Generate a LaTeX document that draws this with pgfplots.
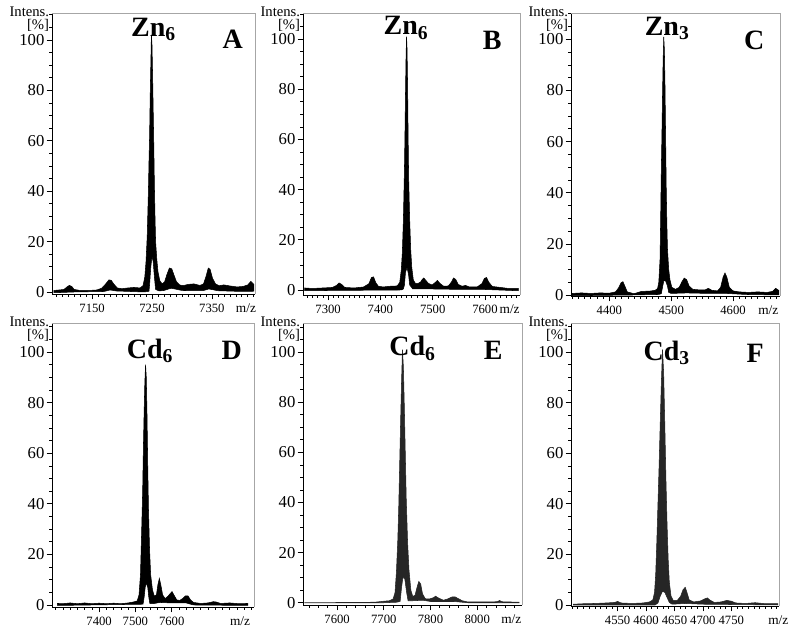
\documentclass[border=0pt]{standalone}
\usepackage{pgfplots}
\pgfplotsset{compat=1.18}
\usepackage{fontspec}
\setmainfont{Liberation Serif}
\pgfplotsset{
  ms/.style={
    scale only axis, clip=false,
    axis lines=left, axis line style={-, line width=0.6pt, black},
    ytick={0,20,...,120}, minor y tick num=3,
    tick align=outside, major tick length=4pt, minor tick length=2pt,
    every tick/.style={black, line width=0.5pt},
    yticklabel style={font=\fontsize{12.5}{12.5}\selectfont, inner sep=1.5pt},
    xticklabel style={font=\fontsize{9.5}{10}\selectfont},
    /pgf/number format/assume math mode=true,
    /pgf/number format/1000 sep={},
    anchor=south west,
  },
  spec/.style={fill=black, draw=black, line width=0.4pt},
}
\newcommand{\frm}{\draw[gray!70, line width=0.5pt] (rel axis cs:0,1) -- (rel axis cs:1,1) -- (rel axis cs:1,0);
  \node[anchor=north east, align=right, inner sep=0pt, font=\fontsize{11}{9.75}\selectfont] at ([xshift=-2pt,yshift=4.5pt]rel axis cs:0,1) {Intens.\\{[}\%{]}};}
\newcommand{\mz}[1]{\node[anchor=north west, font=\fontsize{10}{10}\selectfont, inner sep=0pt] at ([yshift=-7pt]rel axis cs:#1,0) {m/z};}
\begin{document}
\begin{tikzpicture}
\path[use as bounding box] (0,0) rectangle (594.75pt,473.25pt);
% ---------------- A ----------------
\begin{axis}[ms, at={(39pt,252.75pt)}, width=152.25pt, height=210.75pt,
  xmin=7083, xmax=7422, ymin=-0.8, ymax=110.7,
  xtick={7150,7250,7350}, minor xtick={7090,7100,...,7420}]
\addplot[spec] coordinates {
(7086,0.6) (7095,0.8) (7103,1.0) (7108,2.0) (7112,2.6) (7116,2.2) (7120,1.0) (7130,0.6) (7145,0.6) (7158,0.8) (7166,1.5) (7172,3.0) (7178,4.8) (7182,4.6) (7186,3.2) (7192,1.6) (7200,1.3) (7210,1.6) (7220,1.8) (7230,1.6) (7235,2.5) (7238,6) (7240,12) (7242,22) (7244,40) (7245,52) (7246,62) (7247,78) (7248,90) (7249,102) (7250,98) (7251,86) (7252,72) (7253,58) (7254,42) (7255,30) (7256,20) (7258,13) (7260,8) (7263,4.5) (7267,3.2) (7271,4) (7275,7) (7279,9.5) (7283,9.2) (7287,6.5) (7291,4) (7296,2.8) (7302,2.5) (7310,3) (7320,3.2) (7330,2.6) (7336,3.2) (7340,6) (7344,9.5) (7347,9) (7351,5.5) (7356,3.2) (7362,2.5) (7370,2.8) (7380,2.4) (7392,2) (7402,2.2) (7410,2.8) (7415,4.2) (7420,3)
(7420,0.3) (7400,0.2) (7360,0.5) (7345,1.2) (7335,0.5) (7300,0.6) (7282,1.5) (7270,0.6) (7262,0.4) (7256,1) (7254,6) (7252,12) (7250,14) (7248,10) (7246,3) (7245,0.3) (7237,0) (7190,0.4) (7180,0.8) (7170,0.2) (7120,0) (7086,-0.3)
} -- cycle;
\frm \mz{0.905}
\node[anchor=base, font=\bfseries\fontsize{21}{21}\selectfont, inner sep=0pt] at (rel axis cs:0.50,0.918) {Zn$_{\mathbf{6}}$};
\node[anchor=base, font=\bfseries\fontsize{21}{21}\selectfont, inner sep=0pt] at (rel axis cs:0.89,0.872) {A};
\end{axis}
% ---------------- B ----------------
\begin{axis}[ms, at={(227.25pt,252pt)}, width=162.75pt, height=211.5pt,
  xmin=7252, xmax=7667, ymin=-2, ymax=110.4,
  xtick={7300,7400,7500,7600}, minor xtick={7260,7270,...,7660}]
\addplot[spec] coordinates {
(7255,0.8) (7270,0.6) (7290,0.8) (7308,1.0) (7316,1.8) (7321,2.8) (7326,2.2) (7332,1.0) (7350,0.8) (7368,1.2) (7378,2.5) (7383,5) (7387,5.2) (7391,3) (7396,1.5) (7405,1.2) (7420,1.5) (7432,1.6) (7437,3) (7440,8) (7442,15) (7444,28) (7446,48) (7447,62) (7448,78) (7449,92) (7450,101) (7451,96) (7452,82) (7453,62) (7454,45) (7456,28) (7458,16) (7460,9) (7463,4) (7467,2.6) (7472,2.6) (7477,3.2) (7480,4.2) (7483,4.8) (7487,3.8) (7492,2.6) (7499,2) (7505,3) (7509,3.8) (7514,2.6) (7521,1.5) (7530,1.6) (7536,3.2) (7540,4.8) (7544,4.2) (7549,2.2) (7556,1.5) (7563,1.8) (7570,1.2) (7585,1.2) (7594,2.5) (7599,4.6) (7603,5) (7607,3.2) (7614,1.4) (7630,1.0) (7645,0.6) (7664,0.6)
(7664,-0.3) (7600,0.2) (7560,0.2) (7500,0.4) (7462,0.4) (7456,2) (7454,6) (7451,9) (7448,7) (7446,2) (7444,0.4) (7440,0) (7300,-0.2) (7255,-0.3)
} -- cycle;
\frm \mz{0.905}
\node[anchor=base, font=\bfseries\fontsize{21}{21}\selectfont, inner sep=0pt] at (rel axis cs:0.475,0.922) {Zn$_{\mathbf{6}}$};
\node[anchor=base, font=\bfseries\fontsize{21}{21}\selectfont, inner sep=0pt] at (rel axis cs:0.872,0.869) {B};
\end{axis}
% ---------------- C ----------------
\begin{axis}[ms, at={(428.25pt,251.25pt)}, width=156.75pt, height=212.25pt,
  xmin=4338, xmax=4676, ymin=-0.4, ymax=110.3,
  xtick={4400,4500,4600}, minor xtick={4340,4350,...,4670}]
\addplot[spec] coordinates {
(4340,0.6) (4355,0.8) (4370,0.6) (4385,0.8) (4400,0.7) (4410,1.2) (4415,2.8) (4419,4.8) (4422,5.2) (4425,3.5) (4429,1.2) (4440,0.5) (4452,1.4) (4465,1.5) (4474,1.8) (4478,2.5) (4480,5) (4482,14) (4483,30) (4484,48) (4485,62) (4486,78) (4487,92) (4488,101) (4489,96) (4490,82) (4491,62) (4492,42) (4493,28) (4494,18) (4496,10) (4498,6) (4501,3) (4507,2.2) (4513,3) (4517,5) (4521,6.6) (4525,6) (4529,3.5) (4535,2.2) (4545,2) (4555,2) (4560,2.6) (4566,1.8) (4575,1.6) (4580,3) (4584,7) (4587,8.6) (4590,7) (4594,3) (4600,1.6) (4610,1.2) (4625,1.0) (4640,1.2) (4655,1.0) (4664,1.4) (4669,2.6) (4674,1.8)
(4674,0) (4620,0.2) (4590,0.6) (4560,0.6) (4525,0.8) (4500,0.6) (4496,1) (4494,3.5) (4491,5.5) (4488,5.5) (4486,3) (4484,0.5) (4480,0.2) (4440,0) (4340,-0.3)
} -- cycle;
\frm \mz{0.895}
\node[anchor=base, font=\bfseries\fontsize{21}{21}\selectfont, inner sep=0pt] at (rel axis cs:0.46,0.922) {Zn$_{\mathbf{3}}$};
\node[anchor=base, font=\bfseries\fontsize{21}{21}\selectfont, inner sep=0pt] at (rel axis cs:0.877,0.872) {C};
\end{axis}
% ---------------- D ----------------
\begin{axis}[ms, at={(39pt,18pt)}, width=151.5pt, height=213pt,
  xmin=7270, xmax=7827, ymin=-0.8, ymax=111.5,
  xtick={7400,7500,7600}, minor xtick={7280,7300,...,7820}]
\addplot[spec] coordinates {
(7285,0.6) (7300,0.5) (7320,0.8) (7340,0.5) (7360,0.8) (7380,0.5) (7400,0.7) (7420,0.5) (7440,0.7) (7460,0.5) (7480,0.8) (7495,1.2) (7505,1.6) (7510,4) (7514,12) (7517,28) (7520,45) (7522,62) (7524,76) (7526,88) (7528,95) (7530,90) (7532,75) (7534,55) (7536,38) (7539,22) (7542,12) (7547,6) (7552,3.5) (7558,4) (7562,8) (7566,10.5) (7570,8) (7575,4) (7582,2.5) (7590,3.5) (7596,4.5) (7601,5.3) (7606,4) (7614,2) (7622,1.8) (7630,2.5) (7638,3.6) (7645,3.6) (7652,2) (7660,1) (7680,0.6) (7700,0.8) (7715,1.3) (7722,1.2) (7735,0.6) (7760,0.8) (7785,0.5) (7810,0.6)
(7810,-0.2) (7660,0) (7640,0.8) (7600,0.8) (7568,1) (7548,0.5) (7540,0.5) (7537,3) (7534,7) (7530,8.7) (7527,7) (7524,3) (7521,0.3) (7285,-0.2)
} -- cycle;
\frm \mz{0.88}
\node[anchor=base, font=\bfseries\fontsize{21}{21}\selectfont, inner sep=0pt] at (rel axis cs:0.485,0.876) {Cd$_{\mathbf{6}}$};
\node[anchor=base, font=\bfseries\fontsize{21}{21}\selectfont, inner sep=0pt] at (rel axis cs:0.89,0.872) {D};
\end{axis}
% ---------------- E ----------------
\begin{axis}[ms, at={(227.25pt,19.5pt)}, width=164.25pt, height=211.5pt,
  xmin=7527, xmax=7996, ymin=-0.9, ymax=111.6,
  xtick={7600,7700,7800,7900}, xticklabels={7600,7700,7800,8000},
  minor xtick={7540,7560,...,7980}]
\addplot[spec, fill=black!85, draw=black!85] coordinates {
(7530,0) (7680,0.2) (7700,0.6) (7712,0.8) (7720,1.5) (7724,4) (7727,12) (7730,25) (7732,38) (7734,55) (7736,72) (7738,88) (7740,101) (7742,94) (7744,78) (7746,60) (7748,42) (7751,24) (7754,13) (7758,5) (7762,2.5) (7767,3) (7771,6) (7775,8.5) (7779,7.5) (7783,3.5) (7789,1.6) (7798,1.5) (7806,2) (7811,2.6) (7818,1.8) (7828,1.0) (7838,1.6) (7846,2.3) (7853,2.3) (7860,1.6) (7868,0.8) (7880,0.3) (7900,0.3) (7943,0.4) (7948,0.9) (7953,0.4) (7990,0.2)
(7990,0) (7880,0) (7850,0.5) (7800,0.5) (7784,1) (7762,0.8) (7752,0.8) (7749,4) (7745,9.5) (7741,10.2) (7738,6) (7735,0.5) (7727,0.2) (7700,0) (7530,0)
} -- cycle;
\frm \mz{0.904}
\node[anchor=base, font=\bfseries\fontsize{21}{21}\selectfont, inner sep=0pt] at (rel axis cs:0.50,0.883) {Cd$_{\mathbf{6}}$};
\node[anchor=base, font=\bfseries\fontsize{21}{21}\selectfont, inner sep=0pt] at (rel axis cs:0.868,0.869) {E};
\end{axis}
% ---------------- F ----------------
\begin{axis}[ms, at={(428.25pt,18.75pt)}, width=156pt, height=212.25pt,
  xmin=4468, xmax=4834, ymin=-0.4, ymax=111.5,
  xtick={4550,4600,4650,4700,4750}, minor xtick={4470,4480,...,4830}]
\addplot[spec, fill=black!85, draw=black!85] coordinates {
(4472,0.3) (4490,0.5) (4510,0.6) (4530,0.8) (4545,1.0) (4550,1.4) (4556,0.8) (4575,0.6) (4595,0.8) (4606,1.2) (4612,2) (4615,5) (4617,12) (4619,25) (4621,40) (4623,55) (4625,72) (4627,88) (4629,101) (4631,92) (4633,72) (4635,50) (4637,32) (4639,18) (4641,9) (4644,3.5) (4648,1.8) (4655,1.8) (4661,3.5) (4665,6) (4669,7) (4672,5) (4676,2) (4684,1.2) (4696,1.6) (4703,2.4) (4708,2.8) (4712,2) (4720,1) (4732,1.2) (4742,1.8) (4750,1.5) (4758,0.8) (4775,0.6) (4792,0.9) (4810,0.5) (4832,0.5)
(4832,0) (4700,0.3) (4669,0.6) (4646,0.3) (4641,1) (4637,3) (4633,5) (4629,5.4) (4625,3.5) (4621,0.8) (4616,0) (4472,0)
} -- cycle;
\frm \mz{0.947}
\node[anchor=base, font=\bfseries\fontsize{21}{21}\selectfont, inner sep=0pt] at (rel axis cs:0.46,0.869) {Cd$_{\mathbf{3}}$};
\node[anchor=base, font=\bfseries\fontsize{21}{21}\selectfont, inner sep=0pt] at (rel axis cs:0.885,0.862) {F};
\end{axis}
\end{tikzpicture}
\end{document}
